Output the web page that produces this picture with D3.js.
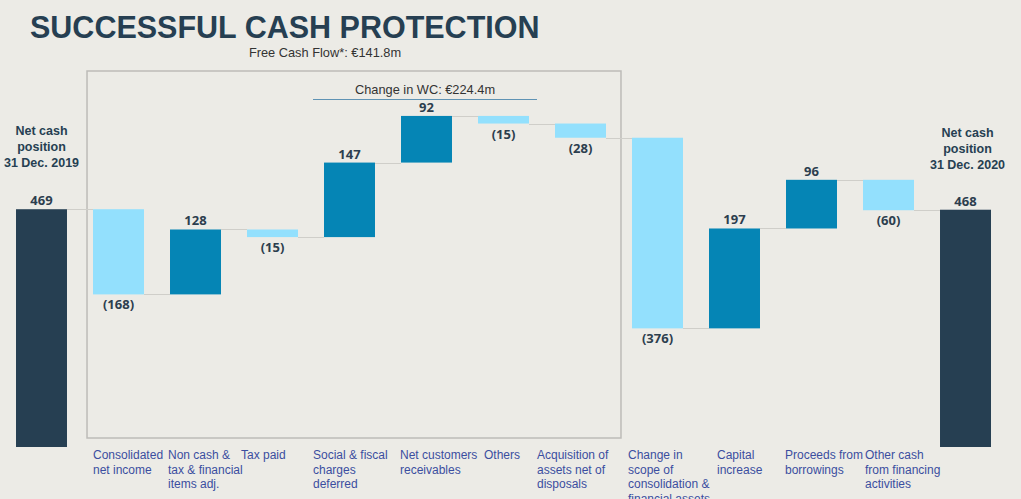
<!DOCTYPE html>
<html>
<head>
<meta charset="utf-8">
<script src="https://cdn.jsdelivr.net/npm/d3@7"></script>
<style>
  html, body { margin: 0; padding: 0; background: #ecebe6; }
  svg { display: block; }
</style>
</head>
<body>
<svg id="chart" width="1021" height="499"></svg>
<script>
// ---- data ----
const categories = [
  "Net cash position 31 Dec. 2019",
  "Consolidated net income",
  "Non cash & tax & financial items adj.",
  "Tax paid",
  "Social & fiscal charges deferred",
  "Net customers receivables",
  "Others",
  "Acquisition of assets net of disposals",
  "Change in scope of consolidation & financial assets",
  "Capital increase",
  "Proceeds from borrowings",
  "Other cash from financing activities",
  "Net cash position 31 Dec. 2020"
];
const categoryLines = [
  [],
  ["Consolidated", "net income"],
  ["Non cash &", "tax & financial", "items adj."],
  ["Tax paid"],
  ["Social & fiscal", "charges", "deferred"],
  ["Net customers", "receivables"],
  ["Others"],
  ["Acquisition of", "assets net of", "disposals"],
  ["Change in", "scope of", "consolidation &", "financial assets"],
  ["Capital", "increase"],
  ["Proceeds from", "borrowings"],
  ["Other cash", "from financing", "activities"],
  []
];
const values = [469, -168, 128, -15, 147, 92, -15, -28, -376, 197, 96, -60, 468];
const barTypes = ["total", "step", "step", "step", "step", "step", "step", "step", "step", "step", "step", "step", "total"];
const totalTitles = [["Net cash", "position", "31 Dec. 2019"], ["Net cash", "position", "31 Dec. 2020"]];
const title = "SUCCESSFUL CASH PROTECTION";
const subtitle = "Free Cash Flow*: €141.8m";
const wcLabel = "Change in WC: €224.4m";
const wcRange = [4, 6];      // indices of bars covered by the WC bracket
const fcfRange = [1, 7];     // indices of bars inside the FCF frame

// ---- colours ----
const colDark = "#263f52", colPos = "#0585b5", colNeg = "#93e0fd";

// ---- layout tweaks (label text box offsets relative to bar left edge) ----
const labelDx = [0, 0, -2, -6, -11, -1, 6, -18, -4, 8, -1, 2, 0];

// ---- compute waterfall ----
let run = 0;
const bars = values.map((v, i) => {
  let y0, y1;
  if (barTypes[i] === "total") { y0 = 0; y1 = v; run = v; }
  else { y0 = run; y1 = run + v; run = y1; }
  return { i, v, y0, y1, lo: Math.min(y0, y1), hi: Math.max(y0, y1), type: barTypes[i] };
});

const svg = d3.select("#chart");
const x = d3.scaleBand().domain(d3.range(categories.length))
  .range([3, 1004]).paddingInner(0.338).paddingOuter(0.169);
const y = d3.scaleLinear().domain([0, 700]).range([447, 92.1]);
const bw = x.bandwidth();

// title
svg.append("text").attr("x", 30).attr("y", 38)
  .attr("font-family", "Liberation Sans, Arial, sans-serif").attr("font-weight", "bold")
  .attr("font-size", 30.5).attr("fill", "#263f52").text(title);
svg.append("text").attr("x", 325).attr("y", 57).attr("text-anchor", "middle")
  .attr("font-family", "Liberation Sans, Arial, sans-serif")
  .attr("font-size", 12.8).attr("fill", "#333").text(subtitle);

// FCF frame
const fx0 = x(fcfRange[0]) - 6, fx1 = x(fcfRange[1]) + bw + 15;
svg.append("rect").attr("x", fx0).attr("y", 71).attr("width", fx1 - fx0).attr("height", 367)
  .attr("fill", "none").attr("stroke", "#bdbcb8").attr("stroke-width", 1.5);

// WC bracket
const wx0 = x(wcRange[0]) - 11, wx1 = x(wcRange[1]) + bw + 8;
svg.append("line").attr("x1", wx0).attr("x2", wx1).attr("y1", 99.5).attr("y2", 99.5)
  .attr("stroke", "#5f93b4").attr("stroke-width", 1.2);
svg.append("text").attr("x", (wx0 + wx1) / 2).attr("y", 94).attr("text-anchor", "middle")
  .attr("font-family", "Liberation Sans, Arial, sans-serif")
  .attr("font-size", 12.8).attr("fill", "#333").text(wcLabel);

// connectors
for (let k = 0; k < bars.length - 1; k++) {
  const lvl = bars[k].type === "total" ? bars[k].v : bars[k].y1;
  svg.append("line")
    .attr("x1", x(k) + bw).attr("x2", x(k + 1))
    .attr("y1", Math.round(y(lvl)) + 0.5).attr("y2", Math.round(y(lvl)) + 0.5)
    .attr("stroke", "#cfcec9").attr("stroke-width", 1);
}

// bars
svg.selectAll("rect.bar").data(bars).enter().append("rect")
  .attr("class", "bar")
  .attr("x", d => x(d.i)).attr("width", bw)
  .attr("y", d => y(d.hi)).attr("height", d => y(d.lo) - y(d.hi))
  .attr("fill", d => d.type === "total" ? colDark : (d.v >= 0 ? colPos : colNeg));

// value labels
const fmt = v => v < 0 ? "(" + Math.abs(v) + ")" : String(v);
svg.selectAll("text.val").data(bars).enter().append("text")
  .attr("class", "val")
  .attr("x", d => x(d.i) + bw / 2)
  .attr("y", d => d.v >= 0 ? y(d.hi) - 4 : y(d.lo) + 15)
  .attr("text-anchor", "middle")
  .attr("font-family", "Open Sans, sans-serif").attr("font-weight", 700)
  .attr("font-size", 13).attr("fill", "#2c3e4e")
  .text(d => fmt(d.v));

// total titles
[0, categories.length - 1].forEach((idx, j) => {
  const cx = x(idx) + bw / 2 + (j === 0 ? 0 : 2);
  const t = svg.append("text")
    .attr("x", cx).attr("y", j === 0 ? 135 : 137)
    .attr("text-anchor", "middle")
    .attr("font-family", "Liberation Sans, Arial, sans-serif").attr("font-weight", "bold")
    .attr("font-size", 12.5).attr("fill", "#263f52");
  totalTitles[j].forEach((ln, li) => {
    t.append("tspan").attr("x", cx).attr("dy", li === 0 ? 0 : 16).text(ln);
  });
});

// category labels
categoryLines.forEach((lines, i) => {
  if (!lines.length) return;
  const lx = x(i) + labelDx[i];
  const t = svg.append("text")
    .attr("x", lx).attr("y", 459)
    .attr("font-family", "Liberation Sans, Arial, sans-serif")
    .attr("font-size", 12).attr("fill", "#3b4ea0");
  lines.forEach((ln, li) => {
    t.append("tspan").attr("x", lx).attr("dy", li === 0 ? 0 : 14.7).text(ln);
  });
});
</script>
</body>
</html>
